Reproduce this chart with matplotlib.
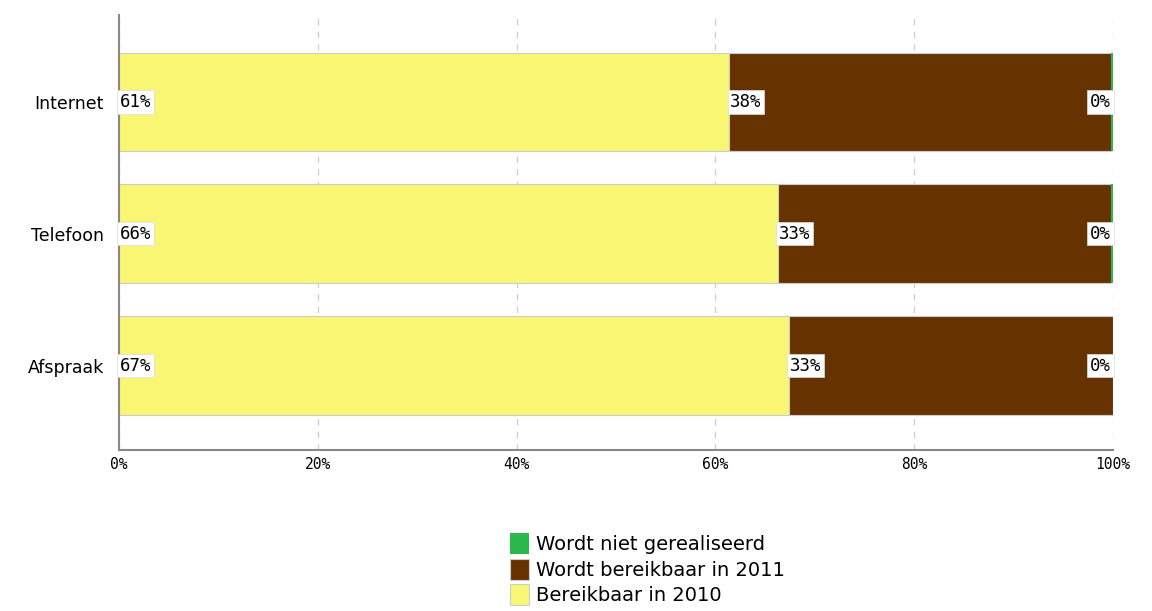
import matplotlib.pyplot as plt
import numpy as np

# data
categories = ['Internet', 'Telefoon', 'Afspraak']
bereikbaar_2010 = [61.4, 66.3, 67.4]
bereikbaar_2011 = [38.45, 33.55, 32.6]
niet_gerealiseerd = [0.15, 0.15, 0.0]
labels_2010 = ['61%', '66%', '67%']
labels_2011 = ['38%', '33%', '33%']
labels_niet = ['0%', '0%', '0%']

col_yellow = '#f9f673'
col_brown = '#663300'
col_green = '#2db84d'

fig = plt.figure(figsize=(11.52, 6.11), dpi=100)
ax = fig.add_axes([0.1033, 0.2635, 0.8628, 0.712])

y = np.arange(len(categories))
h = 0.75
b1 = ax.barh(y, bereikbaar_2010, height=h, color=col_yellow, edgecolor='#cccccc', linewidth=0.8,
             label='Bereikbaar in 2010', zorder=2)
left2 = np.array(bereikbaar_2010)
b2 = ax.barh(y, bereikbaar_2011, left=left2, height=h, color=col_brown, edgecolor='#cccccc', linewidth=0.8,
             label='Wordt bereikbaar in 2011', zorder=2)
left3 = left2 + np.array(bereikbaar_2011)
b3 = ax.barh(y, niet_gerealiseerd, left=left3, height=h, color=col_green, linewidth=0,
             label='Wordt niet gerealiseerd', zorder=2)

box = dict(boxstyle='square,pad=0.15', facecolor='white', edgecolor='#dddddd', linewidth=0.5)
for i in range(len(categories)):
    ax.text(0.1, y[i], labels_2010[i], ha='left', va='center', fontsize=12.5,
            family='DejaVu Sans Mono', bbox=box, zorder=4)
    ax.text(left2[i] + 0.1, y[i], labels_2011[i], ha='left', va='center', fontsize=12.5,
            family='DejaVu Sans Mono', bbox=box, zorder=4)
    ax.text(99.8, y[i], labels_niet[i], ha='right', va='center', fontsize=12.5,
            family='DejaVu Sans Mono', bbox=box, zorder=4)

ax.set_xlim(0, 100)
ax.set_ylim(2.64, -0.66)
ax.set_yticks(y)
ax.set_yticklabels(categories, fontsize=12.5)
ax.set_xticks([0, 20, 40, 60, 80, 100])
ax.set_xticklabels(['0%', '20%', '40%', '60%', '80%', '100%'], fontsize=10.5, family='DejaVu Sans Mono')
ax.tick_params(axis='y', length=0, pad=11)
ax.tick_params(axis='x', length=0, pad=5)
ax.xaxis.grid(True, linestyle=(0, (5, 5)), color='#cccccc', linewidth=0.9, zorder=0)
ax.set_axisbelow(True)
for s in ['top', 'right']:
    ax.spines[s].set_visible(False)
ax.spines['left'].set_color('#888888')
ax.spines['left'].set_linewidth(1.5)
ax.spines['bottom'].set_color('#888888')
ax.spines['bottom'].set_linewidth(1.5)

fig.legend(handles=[b3, b2, b1], loc='upper left', bbox_to_anchor=(0.436, 0.14),
           frameon=False, fontsize=14, handlelength=1.0, handleheight=1.3,
           handletextpad=0.35, labelspacing=0.22, borderaxespad=0)

fig.savefig('out.png', dpi=100)
